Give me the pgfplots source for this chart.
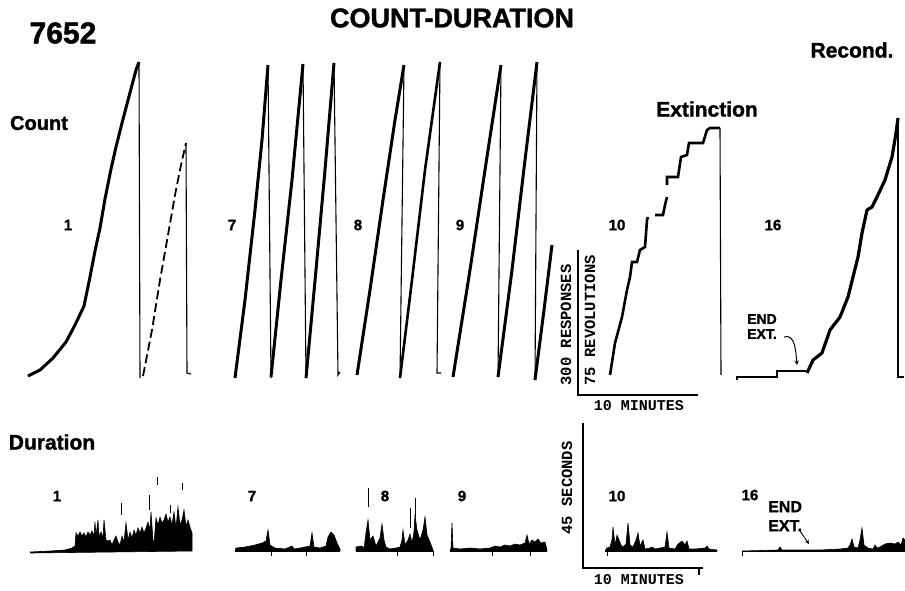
\documentclass[border=0pt]{standalone}
\usepackage{pgfplots}
\pgfplotsset{compat=1.18}
\usepackage{fontspec}
\setmainfont{Liberation Sans}
\newfontfamily\monof{Liberation Mono}
\newfontfamily\heavy[UprightFont={* Bold},FakeBold=1.4]{Liberation Sans}
\begin{document}
\begin{tikzpicture}
\begin{axis}[
  at={(0,0)}, anchor=south west,
  scale only axis, width=905pt, height=590pt,
  xmin=0, xmax=905, ymin=0, ymax=590, y dir=reverse,
  hide axis, clip=false, unbounded coords=jump,
  every axis plot/.append style={black},
]
% ---------- COUNT records ----------
% panel 1
\addplot[line width=3pt, line join=round] coordinates {
 (28,376)(40,370)(53,358)(66,342)(75,325)(84,306)(90,277)(95,251)(100,228)(105,199)(111,169)(116,147)(121,127)(127,104)(132,85)(136,70)(139,62)};
\addplot[line width=1.1pt] coordinates {(139,62)(140,378)};
\addplot[line width=1.8pt, dash pattern=on 9pt off 4pt] coordinates {(143,376)(152,330)(160,280)(168,235)(175,195)(181,165)(186,143)};
\addplot[line width=1.1pt] coordinates {(186,143)(187,373)(191,374)};
% panel 7
\addplot[line width=3pt] coordinates {(235,378)(245,300)(255,210)(262,140)(268,65)};
\addplot[line width=1.1pt] coordinates {(268,65)(271,378)};
\addplot[line width=3pt] coordinates {(271,377)(281,280)(292,180)(303,64)};
\addplot[line width=1.1pt] coordinates {(303,64)(306,378)};
\addplot[line width=3pt] coordinates {(306,378)(316,270)(325,170)(334,63)};
\addplot[line width=1.1pt] coordinates {(334,63)(338,375)(340,372)};
% panel 8
\addplot[line width=3pt] coordinates {(357,375)(370,290)(383,200)(395,120)(404,65)};
\addplot[line width=1.1pt] coordinates {(404,65)(400,378)};
\addplot[line width=2.6pt] coordinates {(400,378)(412,280)(425,170)(440,62)};
\addplot[line width=1.1pt] coordinates {(440,62)(437,373)(441,373)};
% panel 9
\addplot[line width=3pt] coordinates {(453,377)(470,270)(485,170)(501,65)};
\addplot[line width=1.1pt] coordinates {(501,65)(498,377)};
\addplot[line width=3pt] coordinates {(498,377)(512,270)(525,160)(537,62)};
\addplot[line width=1.1pt] coordinates {(537,62)(535,380)};
\addplot[line width=3pt] coordinates {(535,380)(544,310)(552,245)};
% panel 10 (extinction)
\addplot[line width=2.6pt] coordinates {
 (610,375)(615,343)(622,317)(627,290)(630,277)(632,262)(637,262)(640,250)(645,247)(647,220)(648,217)
 (655,nan)
 (655,215)(663,215)(665,205)(667,197)
 (667,nan)
 (667,185)(667,177)(678,177)(681,157)(687,155)(689,143)(703,143)(707,130)(710,128)(720,128)};
\addplot[line width=1.1pt] coordinates {(720,128)(721,375)};
% axes of panel 10 count
\addplot[line width=1.1pt] coordinates {(578,250)(578,395)(698,395)};
% panel 16 (recond.)
\addplot[line width=1.1pt] coordinates {(737,380)(737,377)(777,377)(777,371)(806,371)};
\addplot[line width=3.2pt, line join=round] coordinates {
 (807,373)(813,360)(822,353)(830,330)(840,317)(848,297)(853,277)(858,257)(862,233)(867,210)(872,207)(877,197)(885,180)(892,157)(896,133)(898,118)};
\addplot[line width=1.1pt] coordinates {(898,118)(898,377)(904,377)};
% ---------- DURATION records ----------
% panel 1
\addplot[fill=black, line width=0.6pt] coordinates {
 (30,552)(50,551)(65,550)(72,548)(75,546)(76,533)(78,536)(80,532)(82,536)(84,533)(86,537)(88,532)(90,535)(92,531)(94,536)(95,522)(96,536)(98,520)(99,537)(101,532)(103,538)(104,520)(106,540)(108,541)(110,540)(112,545)(114,540)(116,536)(118,542)(120,545)(122,536)(124,542)(126,523)(128,540)(130,532)(132,538)(134,530)(136,535)(138,528)(140,533)(142,527)(144,533)(146,528)(148,522)(150,530)(151,512)(153,540)(154,544)(156,518)(158,525)(160,517)(162,523)(164,520)(166,514)(168,522)(170,517)(172,525)(174,512)(176,528)(178,507)(180,525)(182,520)(184,510)(186,526)(188,520)(190,527)(192,533)(192,551)(30,553)};
\addplot[line width=1pt] coordinates {(121,503)(121,515)(121,nan)(149,495)(149,510)(149,nan)(157,477)(157,485)(157,nan)(170,505)(170,513)(170,nan)(182,483)(182,490)};
% panel 7
\addplot[fill=black, line width=0.6pt] coordinates {
 (235,551)(236,548)(245,547)(255,545)(262,543)(266,541)(268,530)(270,545)(275,548)(285,549)(292,546)(294,549)(300,548)(305,547)(310,546)(312,533)(314,547)(320,548)(326,546)(328,537)(331,532)(334,535)(337,543)(340,549)(340,551)};
\addplot[line width=1pt] coordinates {(235,551)(340,551)(340,nan)(271,551)(271,556)(271,nan)(306,551)(306,556)};
% panel 8
\addplot[fill=black, line width=0.6pt] coordinates {
 (356,551)(356,547)(362,546)(364,548)(366,533)(368,520)(370,540)(373,536)(376,546)(380,538)(382,524)(384,540)(386,547)(390,549)(396,548)(400,547)(402,540)(403,530)(405,545)(408,540)(410,534)(412,543)(414,532)(415,515)(417,530)(420,540)(423,530)(425,517)(427,535)(430,542)(433,550)(433,551)};
\addplot[line width=1pt] coordinates {(356,551)(433,551)(433,nan)(397,551)(397,556)(397,nan)(433,551)(433,556)(433,nan)(368,488)(368,507)(368,nan)(410,508)(410,528)(410,nan)(415,498)(415,517)};
% panel 9
\addplot[fill=black, line width=0.6pt] coordinates {
 (450,551)(451,548)(452,523)(453,548)(460,549)(470,548)(480,549)(490,548)(495,546)(500,547)(505,545)(510,546)(515,544)(520,545)(525,543)(527,535)(529,544)(532,540)(535,542)(538,539)(541,543)(545,542)(547,550)(547,551)};
\addplot[line width=1pt] coordinates {(450,551)(547,551)(547,nan)(492,551)(492,556)(492,nan)(530,551)(530,556)};
% panel 10
\addplot[line width=1.1pt] coordinates {(583,423)(583,568)(703,568)(703,nan)(699,568)(699,575)};
\addplot[fill=black, line width=0.6pt] coordinates {
 (605,551)(607,548)(610,547)(612,540)(613,527)(615,545)(617,535)(619,540)(621,545)(623,547)(626,544)(628,523)(630,545)(633,547)(636,540)(638,533)(640,546)(643,540)(645,549)(650,548)(652,547)(655,549)(660,548)(665,547)(667,532)(669,548)(675,549)(678,544)(682,541)(685,545)(687,541)(689,549)(695,549)(705,548)(707,546)(709,549)(717,550)(717,551)};
\addplot[line width=1pt] coordinates {(605,551)(717,551)(717,nan)(607,551)(607,556)};
% panel 16
\addplot[fill=black, line width=0.6pt] coordinates {
 (742,551)(778,550)(780,547)(782,550)(820,550)(840,549)(848,548)(850,545)(852,539)(854,547)(858,548)(860,540)(862,528)(864,545)(868,548)(873,549)(875,545)(877,548)(880,547)(885,544)(890,543)(895,544)(898,542)(901,545)(903,538)(905,540)(905,551)};
\addplot[line width=1pt] coordinates {(742,551)(905,551)(905,nan)(742,551)(742,556)};
% invisible frame
\addplot[draw=none] coordinates {(0,0)(905,590)};
% ---------- text ----------
\node[font=\heavy\fontsize{27}{27}\selectfont] at (axis cs:452,18) {COUNT-DURATION};
\node[font=\heavy\fontsize{30}{30}\selectfont] at (axis cs:63,33) {7652};
\node[font=\heavy\fontsize{21}{21}\selectfont] at (axis cs:852,50) {Recond.};
\node[font=\heavy\fontsize{20}{20}\selectfont] at (axis cs:39,123) {Count};
\node[font=\heavy\fontsize{21}{21}\selectfont] at (axis cs:707,109) {Extinction};
\node[font=\heavy\fontsize{21}{21}\selectfont] at (axis cs:52,442) {Duration};
\node[font=\heavy\fontsize{15}{15}\selectfont] at (axis cs:68,225) {1};
\node[font=\heavy\fontsize{15}{15}\selectfont] at (axis cs:232,225) {7};
\node[font=\heavy\fontsize{15}{15}\selectfont] at (axis cs:358,225) {8};
\node[font=\heavy\fontsize{15}{15}\selectfont] at (axis cs:460,225) {9};
\node[font=\heavy\fontsize{15}{15}\selectfont] at (axis cs:617,225) {10};
\node[font=\heavy\fontsize{15}{15}\selectfont] at (axis cs:773,225) {16};
\node[font=\heavy\fontsize{15}{15}\selectfont] at (axis cs:57,496) {1};
\node[font=\heavy\fontsize{15}{15}\selectfont] at (axis cs:252,496) {7};
\node[font=\heavy\fontsize{15}{15}\selectfont] at (axis cs:385,496) {8};
\node[font=\heavy\fontsize{15}{15}\selectfont] at (axis cs:462,496) {9};
\node[font=\heavy\fontsize{15}{15}\selectfont] at (axis cs:617,496) {10};
\node[font=\heavy\fontsize{15}{15}\selectfont] at (axis cs:750,495) {16};
\node[font=\monof\bfseries\fontsize{15}{15}\selectfont] at (axis cs:639,406) {10 MINUTES};
\node[font=\monof\bfseries\fontsize{15}{15}\selectfont] at (axis cs:639,580) {10 MINUTES};
\node[font=\monof\bfseries\fontsize{15.5}{15.5}\selectfont, rotate=90, anchor=west] at (axis cs:566,389) {300 RESPONSES};
\node[font=\monof\bfseries\fontsize{15.5}{15.5}\selectfont, rotate=90, anchor=west] at (axis cs:590,389) {75 REVOLUTIONS};
\node[font=\monof\bfseries\fontsize{15.5}{15.5}\selectfont, rotate=90, anchor=west] at (axis cs:567,538) {45 SECONDS};
\node[font=\heavy\fontsize{14}{15}\selectfont, align=left, anchor=north west, inner sep=0pt] at (axis cs:747,314) {END\\EXT.};
\node[font=\heavy\fontsize{16}{19}\selectfont, align=left, anchor=north west, inner sep=0pt] at (axis cs:768,501) {END\\EXT.};
\draw[line width=1pt, -stealth] (axis cs:784,337) to[out=20, in=95] (axis cs:797,365);
\draw[line width=0.9pt, -stealth] (axis cs:800,531) -- (axis cs:809,544);
\end{axis}
\pgfresetboundingbox
\useasboundingbox (0,0) rectangle (905pt,590pt);
\end{tikzpicture}
\end{document}
